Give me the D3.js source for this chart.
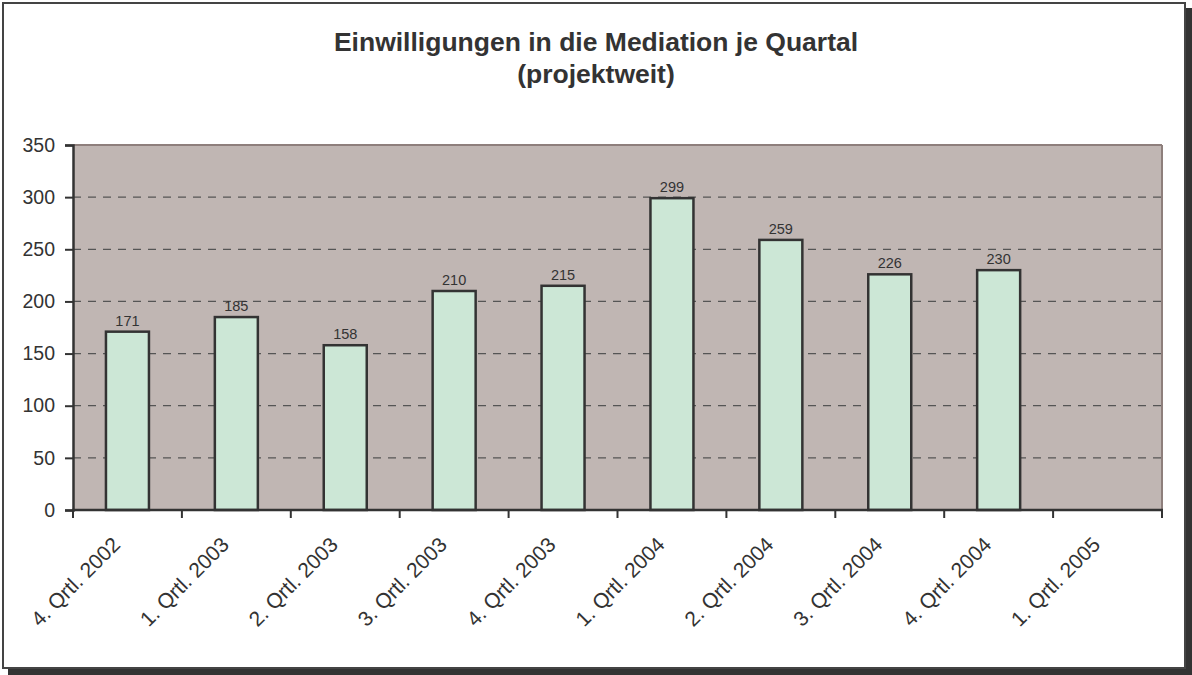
<!DOCTYPE html>
<html>
<head>
<meta charset="utf-8">
<script src="https://cdn.jsdelivr.net/npm/d3@7"></script>
<style>
  body { margin: 0; background: #fff; }
  text { font-family: "Liberation Sans", Arial, sans-serif; }
</style>
</head>
<body>
<script>
var categories = ["4. Qrtl. 2002", "1. Qrtl. 2003", "2. Qrtl. 2003", "3. Qrtl. 2003", "4. Qrtl. 2003",
                  "1. Qrtl. 2004", "2. Qrtl. 2004", "3. Qrtl. 2004", "4. Qrtl. 2004", "1. Qrtl. 2005"];
var values = [171, 185, 158, 210, 215, 299, 259, 226, 230, null];
var yTicks = [0, 50, 100, 150, 200, 250, 300, 350];
var titleLines = ["Einwilligungen in die Mediation je Quartal", "(projektweit)"];

var width = 1192, height = 675;
var plotLeft = 73, plotRight = 1162, plotTop = 145, plotBottom = 510;

var svg = d3.select("body").append("svg")
    .attr("width", width)
    .attr("height", height);

// frame with shadow
svg.append("rect").attr("x", 8).attr("y", 8).attr("width", 1184).attr("height", 667).attr("fill", "#333");
svg.append("rect").attr("x", 3).attr("y", 3).attr("width", 1182).attr("height", 665)
    .attr("fill", "#fff").attr("stroke", "#444").attr("stroke-width", 2);

// title
svg.selectAll(".title").data(titleLines).enter().append("text")
    .attr("x", 596)
    .attr("y", function(d, i) { return 51 + i * 32; })
    .attr("text-anchor", "middle")
    .attr("font-size", 26.5)
    .attr("font-weight", "bold")
    .attr("fill", "#333")
    .text(function(d) { return d; });

var x = d3.scaleBand().domain(categories).range([plotLeft, plotRight]);
var y = d3.scaleLinear().domain([0, 350]).range([plotBottom, plotTop]);

// plot area
svg.append("rect")
    .attr("x", plotLeft).attr("y", plotTop)
    .attr("width", plotRight - plotLeft).attr("height", plotBottom - plotTop)
    .attr("fill", "#c0b6b3");
svg.append("line")
    .attr("x1", plotLeft).attr("x2", plotRight).attr("y1", plotTop).attr("y2", plotTop)
    .attr("stroke", "#8e7f7c").attr("stroke-width", 2);
svg.append("line")
    .attr("x1", plotRight).attr("x2", plotRight).attr("y1", plotTop).attr("y2", plotBottom)
    .attr("stroke", "#8e7f7c").attr("stroke-width", 2);

// gridlines
svg.selectAll(".grid").data(yTicks.filter(function(d) { return d > 0 && d < 350; }))
    .enter().append("line")
    .attr("x1", plotLeft).attr("x2", plotRight)
    .attr("y1", function(d) { return y(d); })
    .attr("y2", function(d) { return y(d); })
    .attr("stroke", "#555")
    .attr("stroke-width", 1.2)
    .attr("stroke-dasharray", "8,7");

// bars
var bw = 43;
var data = categories.map(function(c, i) { return { cat: c, val: values[i] }; })
    .filter(function(d) { return d.val !== null; });

svg.selectAll(".bar").data(data).enter().append("rect")
    .attr("x", function(d) { return x(d.cat) + x.bandwidth() / 2 - bw / 2; })
    .attr("y", function(d) { return y(d.val); })
    .attr("width", bw)
    .attr("height", function(d) { return plotBottom - y(d.val); })
    .attr("fill", "#cce7d6")
    .attr("stroke", "#333")
    .attr("stroke-width", 2.5);

svg.selectAll(".lbl").data(data).enter().append("text")
    .attr("x", function(d) { return x(d.cat) + x.bandwidth() / 2; })
    .attr("y", function(d) { return y(d.val) - 6; })
    .attr("text-anchor", "middle")
    .attr("font-size", 14.5)
    .attr("fill", "#333")
    .text(function(d) { return d.val; });

// y axis
var yAxis = svg.append("g")
    .attr("transform", "translate(" + plotLeft + ",0)")
    .call(d3.axisLeft(y).tickValues(yTicks).tickSize(8).tickPadding(10));
yAxis.select(".domain").attr("stroke", "#333").attr("stroke-width", 2.5);
yAxis.selectAll(".tick line").attr("stroke", "#333").attr("stroke-width", 2);
yAxis.selectAll(".tick text").attr("font-size", 19.5).attr("fill", "#333")
    .style("font-family", "'Liberation Sans', Arial, sans-serif");

// x axis
var xTickPos = d3.range(categories.length + 1).map(function(i) { return plotLeft + i * x.bandwidth(); });
svg.append("line")
    .attr("x1", plotLeft - 1).attr("x2", plotRight + 1).attr("y1", plotBottom).attr("y2", plotBottom)
    .attr("stroke", "#333").attr("stroke-width", 2.5);
svg.selectAll(".xtick").data(xTickPos).enter().append("line")
    .attr("x1", function(d) { return d; }).attr("x2", function(d) { return d; })
    .attr("y1", plotBottom).attr("y2", plotBottom + 8)
    .attr("stroke", "#333").attr("stroke-width", 2);

svg.selectAll(".xlbl").data(categories).enter().append("text")
    .attr("transform", function(d) {
        return "translate(" + (x(d) + x.bandwidth() / 2 - 6) + "," + (plotBottom + 36) + ") rotate(-45)";
    })
    .attr("text-anchor", "end")
    .attr("font-size", 21)
    .attr("fill", "#333")
    .text(function(d) { return d; });
</script>
</body>
</html>
